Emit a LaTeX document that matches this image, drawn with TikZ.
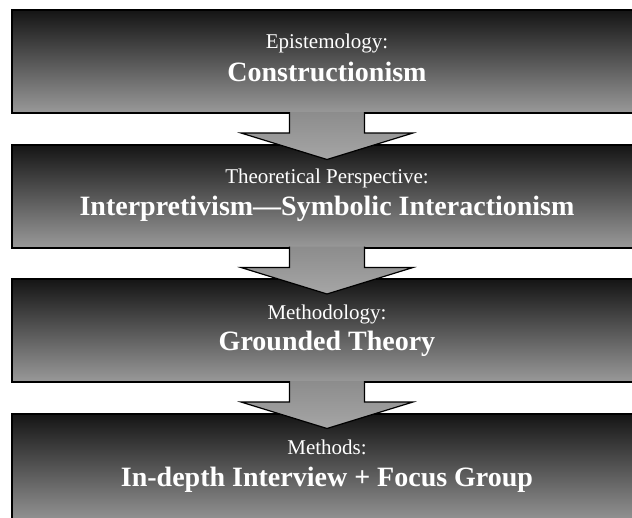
\documentclass[tikz,border=0pt]{standalone}
\usepackage{fontspec}
\setmainfont{Liberation Serif}
\usetikzlibrary{positioning,calc}

\begin{document}
\begin{tikzpicture}[
  x=1pt, y=1pt,
  node distance=29.5pt,
  box/.style={draw=black, line width=2pt, top color=black!92, bottom color=black!40, minimum width=630pt, minimum height=103pt, inner sep=0pt},
  head/.style={text=white, font=\fontsize{21}{25}\selectfont, anchor=base},
  title/.style={text=white, font=\fontsize{28}{33}\selectfont\bfseries, anchor=base},
  blockarrow/.style={draw=black, line width=1.2pt, line join=miter, top color=black!45, bottom color=black!35}]
\useasboundingbox (0,0) rectangle (632,-517);
% the four levels
\node[box] (epi) at (327,-61.5) {};
\node[box, below=of epi] (theo) {};
\node[box, below=of theo] (meth) {};
\node[box, below=of meth, minimum height=112pt] (mtd) {};
\node[head] (epi-h) at ([yshift=-39]epi.north) {Epistemology:};
\node[title] (epi-t) at ([yshift=-33]epi-h.base) {Constructionism};
\node[head] (theo-h) at ([yshift=-40]theo.north) {Theoretical Perspective:};
\node[title] (theo-t) at ([yshift=-32]theo-h.base) {Interpretivism---Symbolic Interactionism};
\node[head] (meth-h) at ([yshift=-41]meth.north) {Methodology:};
\node[title] (meth-t) at ([yshift=-31]meth-h.base) {Grounded Theory};
\node[head] (mtd-h) at ([yshift=-42]mtd.north) {Methods:};
\node[title] (mtd-t) at ([yshift=-32]mtd-h.base) {In-depth Interview + Focus Group};
% block arrows between levels
\draw[blockarrow] ($(epi.south)+(-37.5,2)$) -- ($(epi.south)+(-37.5,-19)$) -- ($(epi.south)+(-86,-19)$) -- ($(theo.north)+(0,-16)$) -- ($(epi.south)+(86,-19)$) -- ($(epi.south)+(37.5,-19)$) -- ($(epi.south)+(37.5,2)$);
\draw[blockarrow] ($(theo.south)+(-37.5,2)$) -- ($(theo.south)+(-37.5,-19)$) -- ($(theo.south)+(-86,-19)$) -- ($(meth.north)+(0,-16)$) -- ($(theo.south)+(86,-19)$) -- ($(theo.south)+(37.5,-19)$) -- ($(theo.south)+(37.5,2)$);
\draw[blockarrow] ($(meth.south)+(-37.5,2)$) -- ($(meth.south)+(-37.5,-19)$) -- ($(meth.south)+(-86,-19)$) -- ($(mtd.north)+(0,-16)$) -- ($(meth.south)+(86,-19)$) -- ($(meth.south)+(37.5,-19)$) -- ($(meth.south)+(37.5,2)$);
\end{tikzpicture}
\end{document}
